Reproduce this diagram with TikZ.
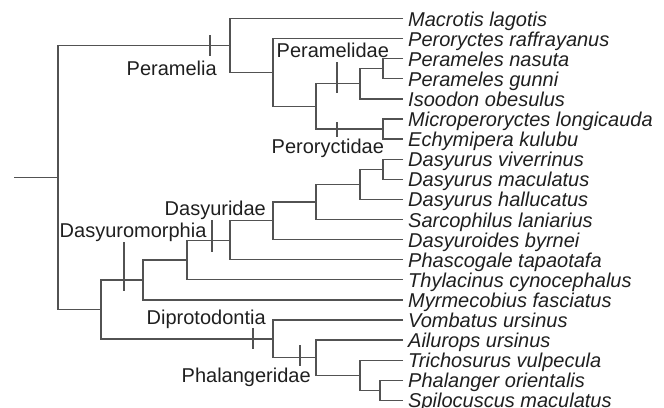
\documentclass[tikz,border=0pt]{standalone}
\usepackage{fontspec}
\setmainfont{Liberation Sans}
\begin{document}
\begin{tikzpicture}[x=1pt,y=-1pt,
  br/.style={draw=black!68,line width=1.3pt},
  tick/.style={draw=black!68,line width=1.3pt},
  leaf/.style={anchor=base west,inner sep=0pt,font=\fontsize{20}{24}\selectfont\itshape,text=black!88},
  clade/.style={anchor=base west,inner sep=0pt,font=\fontsize{20}{24}\selectfont,text=black!88}]
\useasboundingbox (0,0) rectangle (664,407);
% leaf ends
\foreach \i/\y in {0/18.5,1/38.6,2/58.7,3/78.8,4/98.9,5/119,6/139.1,7/159.2,8/179.3,9/199.4,10/219.5,11/239.6,12/259.7,13/279.8,14/299.9,15/320,16/340.1,17/360.2,18/380.3,19/400.4}
  \coordinate (e\i) at (403,\y);
% leaf labels
\node[leaf] (L0) at (408,26.0) {Macrotis lagotis};
\node[leaf] (L1) at (408,46.1) {Peroryctes raffrayanus};
\node[leaf] (L2) at (408,66.2) {Perameles nasuta};
\node[leaf] (L3) at (408,86.3) {Perameles gunni};
\node[leaf] (L4) at (408,106.4) {Isoodon obesulus};
\node[leaf] (L5) at (408,126.5) {Microperoryctes longicauda};
\node[leaf] (L6) at (408,146.6) {Echymipera kulubu};
\node[leaf] (L7) at (408,166.7) {Dasyurus viverrinus};
\node[leaf] (L8) at (408,186.8) {Dasyurus maculatus};
\node[leaf] (L9) at (408,206.9) {Dasyurus hallucatus};
\node[leaf] (L10) at (408,227.0) {Sarcophilus laniarius};
\node[leaf] (L11) at (408,247.1) {Dasyuroides byrnei};
\node[leaf] (L12) at (408,267.2) {Phascogale tapaotafa};
\node[leaf] (L13) at (408,287.3) {Thylacinus cynocephalus};
\node[leaf] (L14) at (408,307.4) {Myrmecobius fasciatus};
\node[leaf] (L15) at (408,327.5) {Vombatus ursinus};
\node[leaf] (L16) at (408,347.6) {Ailurops ursinus};
\node[leaf] (L17) at (408,367.7) {Trichosurus vulpecula};
\node[leaf] (L18) at (408,387.8) {Phalanger orientalis};
\node[leaf] (L19) at (408,407.9) {Spilocuscus maculatus};
% internal nodes
\coordinate (A) at (383,68.75);
\coordinate (B) at (360,83.8);
\coordinate (C) at (383,129.05);
\coordinate (D) at (316,106.4);
\coordinate (E) at (273,72.5);
\coordinate (F) at (230,45.5);
\coordinate (G) at (383,169.25);
\coordinate (H) at (360,184.3);
\coordinate (I) at (316,201.9);
\coordinate (J) at (273,220.75);
\coordinate (K) at (230,240.2);
\coordinate (Lx) at (187,260);
\coordinate (M) at (143,279.95);
\coordinate (P) at (380,390.35);
\coordinate (Q) at (360,375.3);
\coordinate (R) at (316,357.7);
\coordinate (S) at (273,338.85);
\coordinate (T) at (101,309.4);
\coordinate (U) at (58,177.45);
\coordinate (root) at (14,177.45);
% branches
\draw[br] (root) -- (U);
\draw[br] (F) -| (U) |- (T);
\draw[br] (e0) -| (F) |- (E);
\draw[br] (e1) -| (E) |- (D);
\draw[br] (B) -| (D) |- (C);
\draw[br] (A) -| (B) |- (e4);
\draw[br] (e2) -| (A) |- (e3);
\draw[br] (e5) -| (C) |- (e6);
\draw[br] (M) -| (T) |- (S);
\draw[br] (Lx) -| (M) |- (e14);
\draw[br] (K) -| (Lx) |- (e13);
\draw[br] (J) -| (K) |- (e12);
\draw[br] (I) -| (J) |- (e11);
\draw[br] (H) -| (I) |- (e10);
\draw[br] (G) -| (H) |- (e9);
\draw[br] (e7) -| (G) |- (e8);
\draw[br] (e15) -| (S) |- (R);
\draw[br] (e16) -| (R) |- (Q);
\draw[br] (e17) -| (Q) |- (P);
\draw[br] (e18) -| (P) |- (e19);
% clade labels
\node[clade] (cPa) at (126.5,75) {Peramelia};
\node[clade] (cPe) at (276.5,57) {Peramelidae};
\node[clade] (cPo) at (271.5,153) {Peroryctidae};
\node[clade] (cDa) at (164.5,215) {Dasyuridae};
\node[clade] (cDm) at (59.5,237) {Dasyuromorphia};
\node[clade] (cDi) at (146.5,324) {Diprotodontia};
\node[clade] (cPh) at (181.5,382) {Phalangeridae};
% ticks
\draw[tick] (210,35) -- (210,56);
\draw[tick] (337,62) -- (337,93);
\draw[tick] (337,122) -- (337,137);
\draw[tick] (212,220) -- (212,252);
\draw[tick] (124,242) -- (124,291);
\draw[tick] (253,328) -- (253,349);
\draw[tick] (300,345) -- (300,366);
\end{tikzpicture}
\end{document}
